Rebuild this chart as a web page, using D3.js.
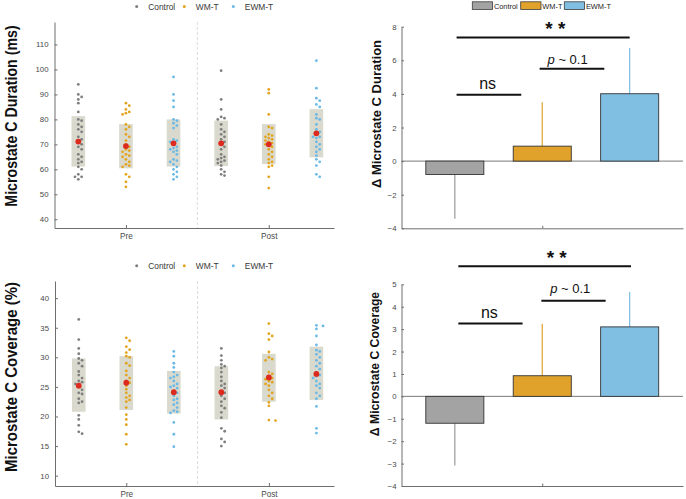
<!DOCTYPE html>
<html><head><meta charset="utf-8">
<script src="https://cdn.jsdelivr.net/npm/d3@7"></script>
<style>body{margin:0;background:#fff;}svg{display:block;font-family:Arial,"Liberation Sans",sans-serif;}</style>
</head><body>
<svg id="chart" width="686" height="499"></svg>
<script>
// ---------- DATA ----------
const groups = ["Control", "WM-T", "EWM-T"];
const sessions = ["Pre", "Post"];

// Duration (ms) raw points, order: Pre Control, Pre WM-T, Pre EWM-T, Post Control, Post WM-T, Post EWM-T
const durPreControl = [94, 90, 89, 88, 86.5, 83, 80, 79.5, 78, 77, 76, 75, 73, 72, 71, 70, 69, 68, 66, 65, 64, 63, 62.5, 61, 60, 58, 57, 57, 56];
const durPreWMT = [86.5, 85.5, 84, 83, 82.5, 82, 78, 77, 76, 74, 73, 71.5, 70, 69, 68, 67.5, 67, 66, 65.5, 65, 64, 63, 62, 61.5, 61, 58, 57, 55, 53];
const durPreEWMT = [97, 90, 87.5, 85, 80, 79.5, 78.5, 77.5, 76.5, 72, 71.5, 71, 70, 69, 68.5, 68, 67.5, 67, 66, 64, 63.5, 63, 62, 61, 60, 59, 58, 57, 56];
const durPostControl = [99.5, 88, 84, 81, 80.5, 80, 78, 76, 75, 74, 73, 72, 71, 70, 69, 68, 66, 65, 64.5, 64, 63.5, 63, 62.5, 61.5, 60, 59, 58, 57.5];
const durPostWMT = [92, 90.5, 82, 77, 76.5, 74, 73.5, 73, 72.5, 72, 71.5, 71, 70.5, 70, 69.5, 69, 68, 67, 66, 65, 64, 63, 62.5, 61.5, 61, 57, 52.5];
const durPostEWMT = [103.5, 92.5, 88.5, 87.5, 86, 85, 82, 80.5, 80, 78, 76, 75, 74, 73, 73, 72.5, 71, 70, 69, 68, 67, 65.5, 64, 63, 61.5, 58, 57];
const durMeans = [71.1, 69.3, 70.4, 70.4, 70.0, 74.4];
const durBoxLo = [61.1, 60.4, 61.1, 61.3, 62.1, 64.8];
const durBoxHi = [81.3, 78.1, 80.0, 79.5, 78.1, 84.1];
const durTicks = [40, 50, 60, 70, 80, 90, 100, 110];

// Coverage (%) raw points
const covPreControl = [36.4, 33, 31.5, 30.6, 29.8, 29.5, 29, 28.5, 27.6, 27, 26.5, 26, 25.8, 25.5, 25, 24.5, 24, 23.8, 23, 22.5, 22.3, 20.2, 19.5, 18.5, 17.4, 17.1];
const covPreWMT = [33.3, 32.8, 31.8, 31.3, 30.8, 30.2, 30, 29, 28.6, 27.7, 27, 26.5, 26, 25.7, 25.2, 24.6, 24, 23.5, 23.2, 22.8, 22.5, 21.5, 20.3, 19.5, 18.6, 17, 15.3];
const covPreEWMT = [31, 30.2, 29, 28.3, 27.5, 27, 26.7, 26.5, 26, 25.5, 25.2, 25, 24.8, 24.3, 24, 23.5, 23, 22.8, 22.3, 22, 21.5, 21, 20.8, 20.6, 19, 17, 14.9];
const covPostControl = [31.5, 30.3, 29.5, 28.8, 28.5, 28.2, 27.5, 26.7, 26, 25.5, 25.2, 24.8, 24.3, 24, 23.5, 23, 22.5, 21.8, 21.4, 20.7, 19.8, 18, 17.5, 16.2, 15.7, 15];
const covPostWMT = [35.7, 34, 33.6, 33, 30.9, 30, 29.7, 29.5, 27.5, 27.2, 26.8, 26.5, 26.3, 26, 25.8, 25.5, 25.2, 24.5, 24, 23.5, 23, 22.4, 21.8, 19.4, 19.3];
const covPostEWMT = [35.4, 35.3, 34.8, 33.6, 32.1, 31.2, 31, 30.5, 30, 29.5, 29, 28.5, 28, 27.5, 27, 26.8, 26.5, 26, 25.5, 25.2, 24.8, 24, 23.5, 23, 21.7, 18, 17.2];
const covMeans = [25.2, 25.7, 24.1, 24.1, 26.6, 27.2];
const covBoxLo = [20.8, 21.1, 20.5, 19.5, 22.5, 22.8];
const covBoxHi = [29.8, 30.2, 27.7, 28.5, 30.6, 31.8];
const covTicks = [10, 15, 20, 25, 30, 35, 40];

// Delta bars
const durDelta = [-0.8, 0.89, 4.01];
const durErr = [2.63, 2.62, 2.72];
const durDeltaTicks = [-4, -2, 0, 2, 4, 6, 8];
const covDelta = [-1.2, 0.92, 3.1];
const covErr = [1.89, 2.32, 1.56];
const covDeltaTicks = [-4, -3, -2, -1, 0, 1, 2, 3, 4, 5];

// significance annotations in data units
const durSig = [
  {x1: 1.02, x2: 3.0, y: 7.35, label: "* *", tx: 2.15, ty: 8.08, kind: "star"},
  {x1: 1.02, x2: 1.76, y: 3.95, label: "ns", tx: 1.375, ty: 4.31, kind: "ns"},
  {x1: 1.97, x2: 2.71, y: 5.5, label: "p", tx: 2.29, ty: 5.8, kind: "p"}
];
const covSig = [
  {x1: 1.04, x2: 3.015, y: 5.8, label: "* *", tx: 2.165, ty: 6.33, kind: "star"},
  {x1: 1.04, x2: 1.775, y: 3.25, label: "ns", tx: 1.395, ty: 3.51, kind: "ns"},
  {x1: 1.99, x2: 2.725, y: 4.27, label: "p", tx: 2.32, ty: 4.62, kind: "p"}
];

// ---------- STYLE ----------
const dotColors = ["#7f7f7f", "#e3a51f", "#6bb9e6"];
const barColors = ["#a3a3a3", "#e0a22b", "#80bfe1"];
const errColors = ["#9a9a9a", "#e0a22b", "#7cbde0"];
const axisColor = "#6e6e6e";
const tickTextColor = "#4a4a4a";

const svg = d3.select("#chart");

function styleAxis(g) {
  g.select(".domain").attr("stroke", axisColor).attr("stroke-width", 1);
  g.selectAll(".tick line").attr("stroke", axisColor);
  g.selectAll(".tick text").attr("fill", tickTextColor).attr("font-family", "Arial, 'Liberation Sans', sans-serif");
}

function swarm(values, yScale, cx, r, gap) {
  const pts = values.map(v => ({v, y: yScale(v)})).sort((a, b) => a.y - b.y);
  const placed = [];
  const minD = 2 * r + gap;
  pts.forEach(p => {
    for (let k = 0; k < 40; k++) {
      const off = k === 0 ? 0 : (k % 2 ? 1 : -1) * Math.ceil(k / 2) * minD * 0.95;
      const x = cx + off;
      const ok = placed.every(q => (q.x - x) ** 2 + (q.y - p.y) ** 2 >= minD * minD);
      if (ok) { p.x = x; placed.push(p); break; }
    }
  });
  return pts;
}

function rotLabel(g, cfg, fontSize, stretch) {
  g.append("text").attr("transform", `translate(${cfg.labelX},${cfg.labelCY}) rotate(-90) scale(1,${stretch})`)
    .attr("text-anchor", "middle").attr("font-weight", "bold").attr("font-size", fontSize)
    .attr("fill", "#111").text(cfg.label);
}

function scatterPanel(cfg) {
  const x = d3.scaleLinear().domain([0.5, 6.37]).range([cfg.left, 334]);
  const y = d3.scaleLinear().domain(cfg.yDomain).range([cfg.bottom, cfg.top]);
  const g = svg.append("g");

  // legend
  const legX = [136.7, 184.3, 233.3];
  groups.forEach((name, i) => {
    g.append("circle").attr("cx", legX[i]).attr("cy", cfg.legendY).attr("r", 1.5).attr("fill", dotColors[i]);
    g.append("text").attr("x", legX[i] + 11.5).attr("y", cfg.legendY + 3)
      .attr("font-size", 8.4).attr("fill", "#3a3a3a").text(name);
  });

  // separator dashed
  g.append("line").attr("x1", x(3.5)).attr("x2", x(3.5)).attr("y1", cfg.top).attr("y2", cfg.bottom)
    .attr("stroke", "#dcdcdc").attr("stroke-width", 1).attr("stroke-dasharray", "3,2");

  // axes
  const ya = d3.axisLeft(y).tickValues(cfg.ticks).tickSizeInner(-3).tickSizeOuter(0).tickPadding(6)
    .tickFormat(d3.format("d"));
  const yg = g.append("g").attr("transform", `translate(${cfg.left},0)`).call(ya);
  yg.selectAll(".tick text").attr("font-size", 7.8);
  styleAxis(yg);

  const xa = d3.axisBottom(x).tickValues([2, 5]).tickFormat((d, i) => sessions[i]).tickSizeInner(-3).tickSizeOuter(0).tickPadding(5);
  const xg = g.append("g").attr("transform", `translate(0,${cfg.bottom})`).call(xa);
  xg.selectAll(".tick text").attr("font-size", 8.2);
  styleAxis(xg);

  // boxes, dots, means
  cfg.data.forEach((vals, k) => {
    const gi = k % 3;
    const cx = x(k + 1);
    g.append("rect").attr("x", cx - 6.8).attr("width", 13.6)
      .attr("y", y(cfg.boxHi[k])).attr("height", y(cfg.boxLo[k]) - y(cfg.boxHi[k]))
      .attr("fill", "#d5d5c8").attr("opacity", 0.9);
    const pts = swarm(vals, y, cx, 1.4, 0.7);
    g.append("g").selectAll("circle").data(pts).join("circle")
      .attr("cx", d => d.x).attr("cy", d => d.y).attr("r", 1.4).attr("fill", dotColors[gi]);
    g.append("circle").attr("cx", cx).attr("cy", y(cfg.means[k])).attr("r", 2.9).attr("fill", "#dd2a1f");
  });

  rotLabel(g, cfg, cfg.labelSize, cfg.labelStretch);
}

function barPanel(cfg) {
  const x = d3.scaleLinear().domain([0.39, 3.61]).range([401.5, 683]);
  const y = d3.scaleLinear().domain(cfg.yDomain).range([cfg.bottom, cfg.top]);
  const g = svg.append("g");

  if (cfg.legend) {
    const lgx = [472.3, 520.7, 564.3];
    groups.forEach((name, i) => {
      g.append("rect").attr("x", lgx[i]).attr("y", 1.8).attr("width", 20.3).attr("height", 7.6)
        .attr("fill", barColors[i]).attr("stroke", "#3c3c3c").attr("stroke-width", 0.8);
      g.append("text").attr("x", lgx[i] + 21.6).attr("y", 8.6).attr("font-size", 7.4)
        .attr("fill", "#222").text(name);
    });
  }

  // axes
  const ya = d3.axisLeft(y).tickValues(cfg.ticks).tickSizeInner(-2.5).tickSizeOuter(0).tickPadding(5);
  const yg = g.append("g").attr("transform", `translate(401.5,0)`).call(ya);
  yg.selectAll(".tick text").attr("font-size", 7.8);
  styleAxis(yg);
  const xa = d3.axisBottom(x).tickValues([2]).tickFormat("").tickSizeInner(-2.5).tickSizeOuter(0);
  const xg = g.append("g").attr("transform", `translate(0,${cfg.bottom})`).call(xa);
  styleAxis(xg);

  // zero line
  g.append("line").attr("x1", 401.5).attr("x2", 683).attr("y1", y(0)).attr("y2", y(0))
    .attr("stroke", "#7a7a7a").attr("stroke-width", 1);

  // error lines
  cfg.delta.forEach((d, i) => {
    const end = d + Math.sign(d) * cfg.err[i];
    g.append("line").attr("x1", x(i + 1)).attr("x2", x(i + 1)).attr("y1", y(d)).attr("y2", y(end))
      .attr("stroke", errColors[i]).attr("stroke-width", 1.2);
  });
  // bars
  cfg.delta.forEach((d, i) => {
    g.append("rect").attr("x", x(i + 1 - 0.332)).attr("width", x(i + 1 + 0.332) - x(i + 1 - 0.332))
      .attr("y", y(Math.max(0, d))).attr("height", Math.abs(y(d) - y(0)))
      .attr("fill", barColors[i]).attr("stroke", "#333").attr("stroke-width", 0.9);
  });

  // significance
  cfg.sig.forEach(s => {
    g.append("line").attr("x1", x(s.x1)).attr("x2", x(s.x2)).attr("y1", y(s.y)).attr("y2", y(s.y))
      .attr("stroke", "#111").attr("stroke-width", 2);
    if (s.kind === "star") {
      g.append("text").attr("x", x(s.tx)).attr("y", y(s.ty) + 10).attr("text-anchor", "middle")
        .attr("font-size", 19).attr("font-weight", "bold").attr("fill", "#111").text(s.label);
    } else if (s.kind === "ns") {
      g.append("text").attr("x", x(s.tx)).attr("y", y(s.ty)).attr("text-anchor", "middle")
        .attr("font-size", 16).attr("fill", "#111").text("ns");
    } else {
      const t = g.append("text").attr("x", x(s.tx)).attr("y", y(s.ty)).attr("text-anchor", "middle")
        .attr("font-size", 13).attr("fill", "#111");
      t.append("tspan").attr("font-style", "italic").text("p");
      t.append("tspan").text(" ~ 0.1");
    }
  });

  rotLabel(g, cfg, cfg.labelSize, cfg.labelStretch);
}

scatterPanel({
  left: 54.5, top: 22, bottom: 228, yDomain: [36.5, 119], ticks: durTicks, legendY: 6.5,
  data: [durPreControl, durPreWMT, durPreEWMT, durPostControl, durPostWMT, durPostEWMT],
  means: durMeans, boxLo: durBoxLo, boxHi: durBoxHi,
  label: "Microstate C Duration (ms)", labelX: 16.5, labelCY: 116, labelSize: 14.2, labelStretch: 1.2
});
scatterPanel({
  left: 55, top: 281, bottom: 486, yDomain: [8.25, 42.9], ticks: covTicks, legendY: 265.7,
  data: [covPreControl, covPreWMT, covPreEWMT, covPostControl, covPostWMT, covPostEWMT],
  means: covMeans, boxLo: covBoxLo, boxHi: covBoxHi,
  label: "Microstate C Coverage (%)", labelX: 16.5, labelCY: 377, labelSize: 15, labelStretch: 1.15
});
barPanel({
  top: 26.7, bottom: 228.3, yDomain: [-4, 8], ticks: durDeltaTicks, legend: true,
  delta: durDelta, err: durErr, sig: durSig,
  label: "Δ Microstate C Duration", labelX: 381, labelCY: 114, labelSize: 13, labelStretch: 1.0
});
barPanel({
  top: 284.3, bottom: 486, yDomain: [-4, 5], ticks: covDeltaTicks, legend: false,
  delta: covDelta, err: covErr, sig: covSig,
  label: "Δ Microstate C Coverage", labelX: 378.5, labelCY: 364, labelSize: 12.2, labelStretch: 1.05
});
</script>
</body></html>
